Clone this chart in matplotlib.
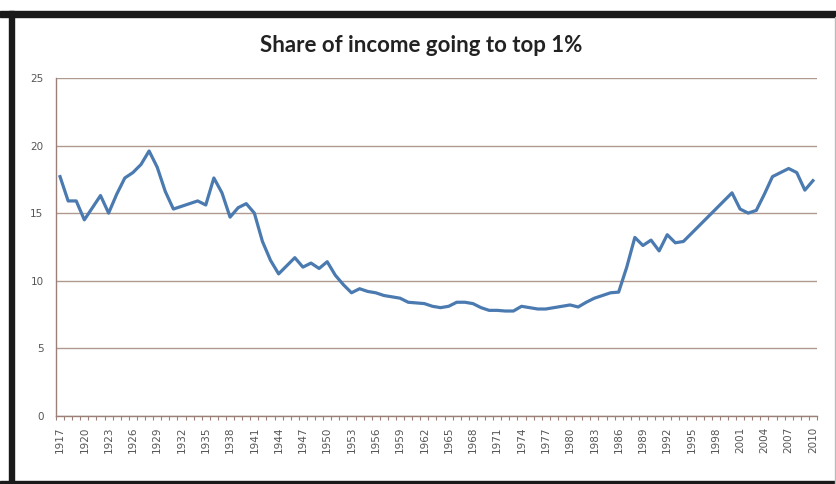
import numpy as np
import matplotlib.pyplot as plt
from matplotlib.patches import Rectangle

years = list(range(1917, 2011))
share = [17.7, 15.9, 15.9, 14.5, 15.4, 16.3, 15.0, 16.4, 17.6, 18.0,
         18.6, 19.6, 18.4, 16.6, 15.3, 15.5, 15.7, 15.9, 15.6, 17.6,
         16.5, 14.7, 15.4, 15.7, 15.0, 12.9, 11.5, 10.5, 11.1, 11.7,
         11.0, 11.3, 10.9, 11.4, 10.4, 9.7, 9.1, 9.4, 9.2, 9.1,
         8.9, 8.8, 8.7, 8.4, 8.35, 8.3, 8.1, 8.0, 8.1, 8.4,
         8.4, 8.3, 8.0, 7.8, 7.8, 7.75, 7.75, 8.1, 8.0, 7.9,
         7.9, 8.0, 8.1, 8.2, 8.05, 8.4, 8.7, 8.9, 9.1, 9.15,
         11.0, 13.2, 12.6, 13.0, 12.2, 13.4, 12.8, 12.9, 13.5, 14.1,
         14.7, 15.3, 15.9, 16.5, 15.3, 15.0, 15.2, 16.4, 17.7, 18.0,
         18.3, 18.0, 16.7, 17.4]
label_years = years[::3]
title = 'Share of income going to top 1%'

grid_col = '#b09a90'
axis_col = '#9a8078'
text_col = '#555555'

fig = plt.figure(figsize=(8.37, 4.84), dpi=100)
ax = fig.add_axes([0.0669, 0.1411, 0.9092, 0.6977])

ax.plot(years, share, color='#4a7ab0', lw=2.3, solid_joinstyle='round')

ax.set_xlim(1916.5, 2010.5)
ax.set_ylim(0, 25)
ax.set_yticks(range(0, 26, 5))
ax.yaxis.grid(True, color=grid_col, lw=1.0)
ax.set_axisbelow(True)

# tick marks between categories, labels every third year
ax.set_xticks(np.arange(1916.5, 2011, 1))
ax.set_xticklabels([])
ax.tick_params(axis='x', length=3, color=axis_col, width=0.8)
ax.set_xticks(label_years, minor=True)
ax.set_xticklabels([str(y) for y in label_years], minor=True, rotation=90,
                   fontsize=7.5, color=text_col, family='DejaVu Sans')
ax.tick_params(axis='x', which='minor', length=0, pad=8)
ax.tick_params(axis='y', length=0, labelsize=7.5, labelcolor=text_col, pad=9)

for s in ['top', 'right']:
    ax.spines[s].set_visible(False)
for s in ['left', 'bottom']:
    ax.spines[s].set_color(axis_col)
    ax.spines[s].set_linewidth(1.0)

fig.text(0.503, 0.905, title, ha='center', va='center', fontsize=16,
         fontweight='bold', family='Lato', color='#222222')

# black frame
fig.patches.append(Rectangle((0, 1 - 17 / 484), 1, 6 / 484, transform=fig.transFigure,
                             color='#1a1a1a', zorder=5))
fig.patches.append(Rectangle((9 / 837, 0), 5 / 837, 1 - 11 / 484, transform=fig.transFigure,
                             color='#1a1a1a', zorder=5))
fig.patches.append(Rectangle((0, 0), 1, 3.5 / 484, transform=fig.transFigure,
                             color='#1a1a1a', zorder=5))
fig.patches.append(Rectangle((835 / 837, 0), 1.5 / 837, 1 - 17 / 484, transform=fig.transFigure,
                             color='#bbbbbb', zorder=5))

fig.savefig('out.png', dpi=100)
